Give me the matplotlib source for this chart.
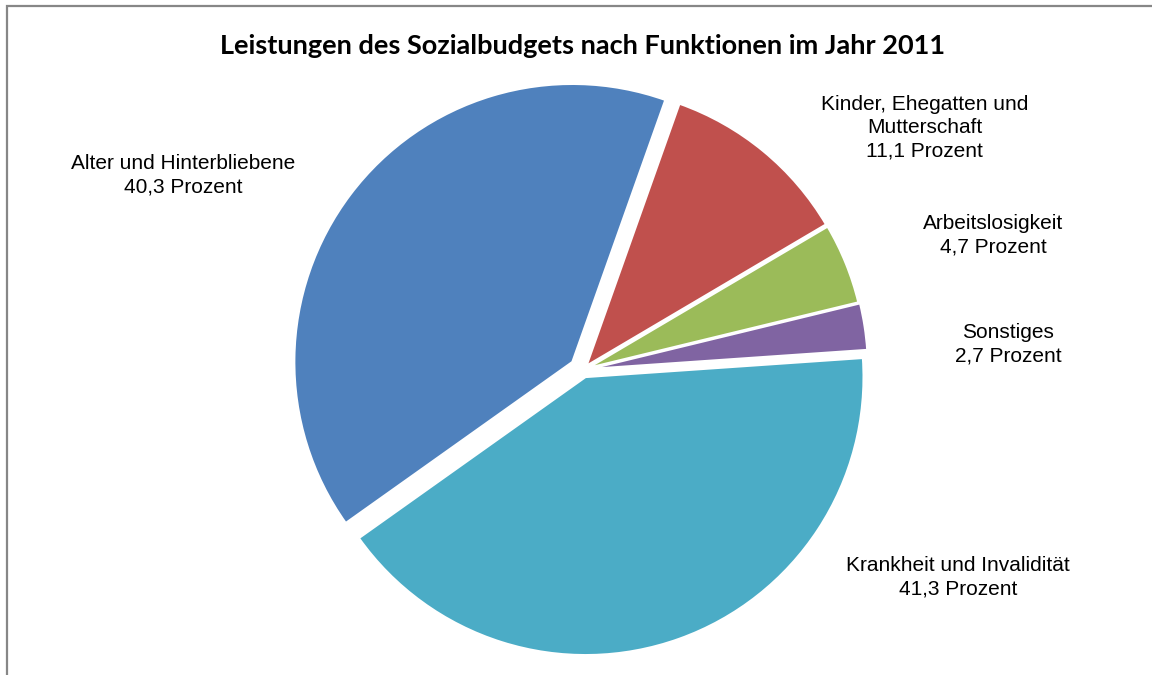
import matplotlib.pyplot as plt
from matplotlib.patches import Rectangle
import numpy as np

# Sozialbudget 2011, shares in percent
categories = ["Alter und Hinterbliebene", "Kinder, Ehegatten und\nMutterschaft",
              "Arbeitslosigkeit", "Sonstiges", "Krankheit und Invalidität"]
shares = [40.3, 11.1, 4.7, 2.7, 41.3]
share_labels = ["40,3 Prozent", "11,1 Prozent", "4,7 Prozent", "2,7 Prozent", "41,3 Prozent"]
colors = ["#4F81BD", "#C0504D", "#9BBB59", "#8064A2", "#4BACC6"]
explode = [0.048, 0.02, 0.02, 0.025, 0.027]

W, H = 1152, 675
cx, cy, R = 583, 370, 278

fig = plt.figure(figsize=(W / 100, H / 100), dpi=100)
ax = fig.add_axes([0, 0, 1, 1])

wedges, _ = ax.pie(shares, colors=colors, explode=explode, startangle=215.4,
                   counterclock=False, radius=1.0,
                   wedgeprops=dict(edgecolor="white", linewidth=1.5))
# one data unit = pie radius in pixels
ax.set_xlim(-cx / R, (W - cx) / R)
ax.set_ylim(-(H - cy) / R, cy / R)
ax.set_aspect("equal")
ax.axis("off")

# label placement: (distance from centre, angle offset in degrees) per wedge
label_pos = [(1.601, 11.1), (1.507, -15.2), (1.553, -3.9), (1.532, -5.3), (1.541, 41.4)]
for w, cat, lab, (dist, off) in zip(wedges, categories, share_labels, label_pos):
    ang = np.deg2rad((w.theta1 + w.theta2) / 2 + off)
    ax.text(dist * np.cos(ang), dist * np.sin(ang), cat + "\n" + lab,
            ha="center", va="center", fontsize=15, family="Liberation Sans",
            linespacing=1.27)

fig.text(583 / W, 1 - 46 / H, "Leistungen des Sozialbudgets nach Funktionen im Jahr 2011",
         ha="center", va="center", fontsize=19.5, fontweight="bold", family="Lato")

fig.patches.append(Rectangle((7 / W, -0.1), 1.2, 1 - 6 / H + 0.1, transform=fig.transFigure,
                             fill=False, edgecolor="#878787", linewidth=1.6))

fig.savefig("out.png", dpi=100)
